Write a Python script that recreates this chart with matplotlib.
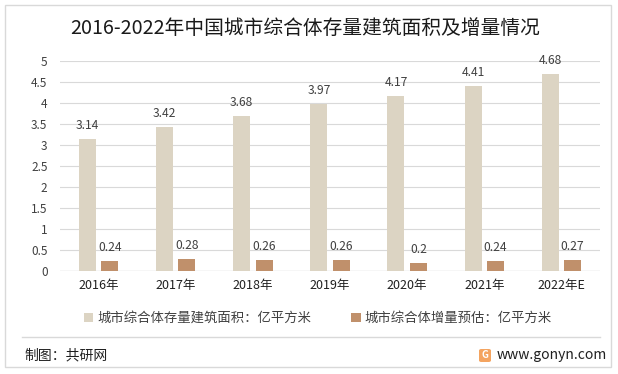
import matplotlib
matplotlib.use("Agg")
import matplotlib.pyplot as plt
from matplotlib.patches import Rectangle, FancyBboxPatch
from matplotlib.lines import Line2D
import numpy as np

plt.rcParams['font.family'] = ['Noto Sans CJK SC', 'DejaVu Sans']

categories = ["2016年", "2017年", "2018年", "2019年", "2020年", "2021年", "2022年E"]
stock_area = [3.14, 3.42, 3.68, 3.97, 4.17, 4.41, 4.68]
increment = [0.24, 0.28, 0.26, 0.26, 0.2, 0.24, 0.27]
series_names = ["城市综合体存量建筑面积：亿平方米", "城市综合体增量预估：亿平方米"]
yticks = [0, 0.5, 1, 1.5, 2, 2.5, 3, 3.5, 4, 4.5, 5]
ytick_labels = ["0", "0.5", "1", "1.5", "2", "2.5", "3", "3.5", "4", "4.5", "5"]
title = "2016-2022年中国城市综合体存量建筑面积及增量情况"
source = "制图：共研网"
website = "www.gonyn.com"

c1 = "#DCD4C3"
c2 = "#C0906B"
txt = "#404040"

W, H = 618, 374
fig = plt.figure(figsize=(W / 100, H / 100), dpi=100)

# outer frame
fig.patches.append(Rectangle((5 / W, 1 - 367 / H), 606 / W, 362 / H,
                             transform=fig.transFigure, fill=False,
                             edgecolor="#D9D9D9", linewidth=1.0))
# separator line
fig.lines.append(Line2D([22 / W, 600 / W], [1 - 337 / H, 1 - 337 / H],
                        transform=fig.transFigure, color="#D9D9D9", linewidth=1.0))

ax = fig.add_axes([60 / W, 1 - 271 / H, 540 / W, 210 / H])
x = np.arange(len(categories))
bw = 0.22
off = 0.145
b1 = ax.bar(x - off, stock_area, bw, color=c1, label=series_names[0], zorder=3)
b2 = ax.bar(x + off, increment, bw, color=c2, label=series_names[1], zorder=3)

for rects, vals in ((b1, stock_area), (b2, increment)):
    for r, v in zip(rects, vals):
        ax.annotate(f"{v:g}", (r.get_x() + r.get_width() / 2, v),
                    xytext=(0, 5), textcoords="offset points",
                    ha="center", va="bottom", fontsize=8.7, color=txt, zorder=4)

ax.set_xlim(-0.5, len(categories) - 0.5)
ax.set_ylim(0, 5)
ax.set_yticks(yticks)
ax.set_yticklabels(ytick_labels, fontsize=8.5, color=txt)
ax.set_xticks(x)
ax.set_xticklabels(categories, fontsize=9, color="#202020")
ax.tick_params(axis="both", length=0, pad=6)
ax.tick_params(axis="y", pad=9)
ax.grid(axis="y", color="#D9D9D9", linewidth=0.8, zorder=0)
for s in ax.spines.values():
    s.set_visible(False)
ax.axhline(0, color="#D0D0D0", linewidth=0.9, zorder=2)

fig.text(0.5 - 4 / W, 1 - 28 / H, title, ha="center", va="center", fontsize=14.2, color="#1a1a1a")

leg = fig.legend(handles=[b1, b2], labels=series_names, loc="center",
                 bbox_to_anchor=(318 / W, 1 - 318 / H), ncol=2, frameon=False,
                 fontsize=9.6, handlelength=0.7, handleheight=0.7,
                 columnspacing=3.0, handletextpad=0.3)
for t in leg.get_texts():
    t.set_color(txt)

fig.text(24 / W, 1 - 355 / H, source, ha="left", va="center", fontsize=10, color="#202020")
# logo
fig.patches.append(FancyBboxPatch((479 / W, 1 - 362 / H), 12 / W, 13 / H,
                                  boxstyle="round,pad=0,rounding_size=0.004",
                                  transform=fig.transFigure, facecolor="#F4A460",
                                  edgecolor="none"))
fig.text(485 / W, 1 - 355.5 / H, "G", ha="center", va="center", fontsize=7,
         color="white", fontweight="bold")
fig.text(497 / W, 1 - 355 / H, website, ha="left", va="center", fontsize=10, color="#202020")

fig.savefig("out.png", dpi=100)
